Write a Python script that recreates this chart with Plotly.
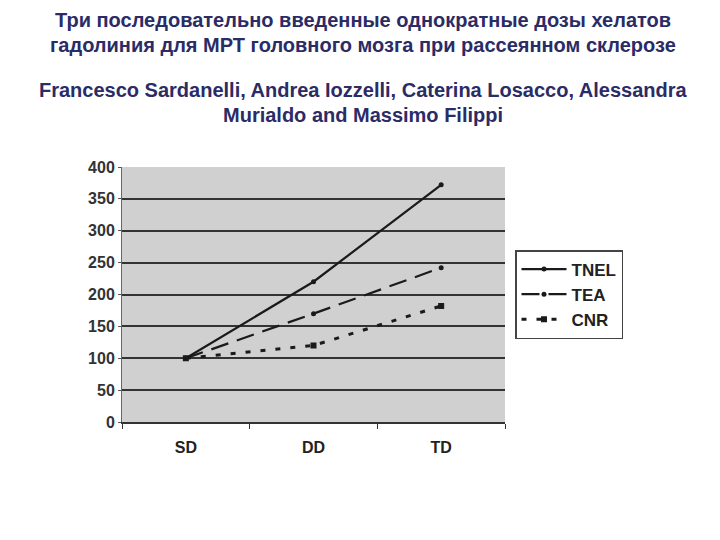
import plotly.graph_objects as go

categories = ["SD", "DD", "TD"]
tnel = [100, 220, 372]
tea = [100, 170, 242]
cnr = [100, 120, 182]
y_ticks = [0, 50, 100, 150, 200, 250, 300, 350, 400]

title_lines = [
    "Три последовательно введенные однократные дозы хелатов",
    "гадолиния для МРТ головного мозга при рассеянном склерозе",
    "Francesco Sardanelli, Andrea Iozzelli, Caterina Losacco, Alessandra",
    "Murialdo and Massimo Filippi",
]

W, H = 720, 540
OFF = 8  # browser body margin
title_y = [y - OFF for y in [20, 45, 90, 115]]
x0, x1 = 122 - OFF, 505 - OFF
y0, y1 = 422 - OFF, 167 - OFF

fig = go.Figure()
fig.add_trace(go.Scatter(x=categories, y=tnel, name="TNEL", mode="lines+markers", legendgroup="a",
                         line=dict(color="#1a1a1a", width=2.2, dash="solid"),
                         marker=dict(size=5, color="#1a1a1a", symbol="circle")))
fig.add_trace(go.Scatter(x=categories, y=tea, name="TEA", mode="lines+markers", legendgroup="b",
                         line=dict(color="#1a1a1a", width=2.2, dash="18px,9px"),
                         marker=dict(size=5, color="#1a1a1a", symbol="circle")))
fig.add_trace(go.Scatter(x=categories, y=cnr, name="CNR", mode="lines+markers", legendgroup="c",
                         line=dict(color="#1a1a1a", width=3, dash="5px,10px"),
                         marker=dict(size=6, color="#1a1a1a", symbol="square")))

annotations = []
for t, yy in zip(title_lines, title_y):
    annotations.append(dict(text="<b>" + t + "</b>", x=(363 - OFF) / W, y=1 - yy / H, xref="paper", yref="paper",
                            showarrow=False, xanchor="center", yanchor="middle",
                            font=dict(family="Liberation Sans, Arial", size=20, color="#2b2b66")))

fig.update_layout(
    width=W, height=H,
    margin=dict(l=0, r=0, t=0, b=0, autoexpand=False),
    paper_bgcolor="white",
    plot_bgcolor="#d0d0d0",
    showlegend=True,
    legend=dict(x=(515 - OFF) / W, y=1 - (250 - OFF) / H, xanchor="left", yanchor="top",
                bgcolor="white", bordercolor="#444444", borderwidth=1.5,
                font=dict(family="Liberation Sans, Arial", size=17, color="#222222", weight="bold"),
                tracegroupgap=0, itemwidth=45),
    annotations=annotations,
    xaxis=dict(domain=[x0 / W, x1 / W], type="category", tickson="boundaries",
               ticks="outside", ticklen=5, tickcolor="#333333", automargin=False,
               showline=True, linecolor="#333333", linewidth=2, showgrid=False,
               ticklabelstandoff=10,
               tickfont=dict(family="Liberation Sans, Arial", size=16, color="#222222", weight="bold"),
               range=[-0.5, 2.5]),
    yaxis=dict(domain=[1 - y0 / H, 1 - y1 / H], range=[0, 400], tickvals=y_ticks,
               showline=True, linecolor="#666666", linewidth=1, automargin=False,
               gridcolor="#333333", gridwidth=2, zeroline=False,
               ticks="outside", ticklen=3, tickcolor="#555555",
               tickfont=dict(family="Liberation Sans, Arial", size=16, color="#333333", weight="bold")),
)

fig.write_html("out.html")
